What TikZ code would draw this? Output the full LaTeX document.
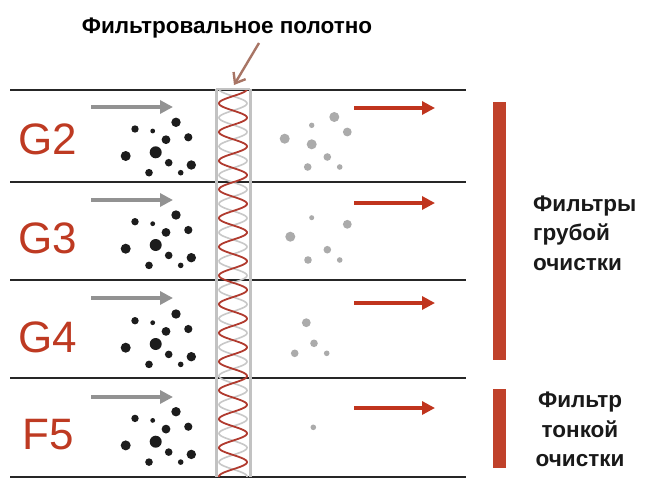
\documentclass[tikz,border=0pt]{standalone}
\usepackage{fontspec}
\setmainfont{Liberation Sans}
\usetikzlibrary{arrows.meta}
\definecolor{labred}{HTML}{BE3A22}
\definecolor{barred}{HTML}{C0412A}
\definecolor{arrred}{HTML}{C0341D}
\definecolor{helred}{HTML}{B03A2E}
\definecolor{helgray}{HTML}{C8C8C8}
\definecolor{framegray}{HTML}{C2C2C2}
\definecolor{arrgray}{HTML}{929292}
\definecolor{dotgray}{HTML}{ABABAB}
\definecolor{dotblack}{HTML}{1C1C1C}
\definecolor{brown}{HTML}{A87565}
\tikzset{
  rowline/.style={draw=black!85, line width=1.4pt},
  grayarrow/.style={draw=arrgray, line width=3.2pt, -{Triangle[length=13pt,width=13pt]}},
  redarrow/.style={draw=arrred, line width=3.2pt, -{Triangle[length=13pt,width=13pt]}},
  rowlabel/.style={text=labred, font=\fontsize{44}{44}\selectfont, anchor=center, inner sep=0pt},
  sidetext/.style={font=\bfseries\fontsize{22.5}{29.5}\selectfont, text=black!90, inner sep=0pt},
  blackdot/.style={fill=dotblack},
  graydot/.style={fill=dotgray},
}
\begin{document}
\begin{tikzpicture}[x=1pt,y=-1pt]
\useasboundingbox (0,0) rectangle (655,500);
\fill[white] (0,0) rectangle (655,500);

% row separator lines
\foreach \y [count=\i] in {90,182,280,378,477} {
  \coordinate (la\i) at (10,\y);
  \coordinate (lb\i) at (466,\y);
  \draw[rowline] (la\i) -- (lb\i);
}

% filter cloth
\draw[helgray, line width=1.6pt] plot[domain=89:477, samples=500, smooth] ({233-14*cos((\x-89)*12.5436)}, \x);
\draw[helred, line width=1.8pt] plot[domain=89:477, samples=500, smooth] ({233+14*cos((\x-89)*12.5436)}, \x);
\draw[framegray, line width=3pt] (216,89) -- (216,477) (250,89) -- (250,477);
\draw[framegray, line width=1.2pt] (216,89) -- (250,89);

% title and pointer
\node[font=\bfseries\fontsize{22.5}{24}\selectfont, inner sep=0pt] (title) at (227,28.5) {Фильтровальное полотно};
\coordinate (ptrs) at (259,43);
\coordinate (ptre) at (234,85);
\draw[brown, line width=2.4pt, -{Straight Barb[length=9pt,width=14pt,line width=2.4pt]}] (ptrs) -- (ptre);

% rows
\foreach \lab/\ly/\ay/\ry/\dy in {G2/139/107/108/122.3, G3/238/200/203/215, G4/337/298/303/314, F5/435/397/408/411.7} {
  \node[rowlabel] (lab\lab) at (48,\ly) {\lab};
  \coordinate (ga\lab) at (91,\ay);
  \coordinate (gb\lab) at (173,\ay);
  \draw[grayarrow] (ga\lab) -- (gb\lab);
  \coordinate (ra\lab) at (354,\ry);
  \coordinate (rb\lab) at (435,\ry);
  \draw[redarrow] (ra\lab) -- (rb\lab);
  \begin{scope}[shift={(176,\dy)}]
    \foreach \px/\py/\r in {0/0/4.7, -41/6.7/3.7, -23.3/8.7/2.4, -10/17.4/4.4, 12.3/15/4.1, -50.3/33.7/5, -20.3/30/6, -7.3/40.4/3.8, 15.3/42.7/4.7, -27/50.4/3.8, 4.7/50.4/2.8}
      \fill[blackdot] (\px,\py) circle (\r pt);
  \end{scope}
}

% gray (passed) particles
\foreach \px/\py/\r in {334.3/117/5, 311.7/125.3/2.7, 347.3/132/4.4, 284.7/138.7/5, 311.7/144.3/5, 327.3/157/3.8, 307.7/167/3.8, 339.7/167/2.8,
  311.7/217.7/2.5, 347.3/224.3/4.4, 290.3/236.7/5, 327.3/249.7/3.8, 308/260/3.8, 339.7/260/2.8,
  306.3/322.7/4.4, 314/343.3/3.8, 294.7/353.3/3.8, 326.7/353.3/2.8,
  313.3/427.3/2.8}
  \fill[graydot] (\px,\py) circle (\r pt);

% classification bars
\fill[barred] (493,102) rectangle (506,360);
\fill[barred] (493,389) rectangle (506,468);
\node[sidetext, align=left, anchor=west] (coarse) at (533,233) {Фильтры\\грубой\\очистки};
\node[sidetext, align=center] (fine) at (580,429.5) {Фильтр\\тонкой\\очистки};
\end{tikzpicture}
\end{document}
